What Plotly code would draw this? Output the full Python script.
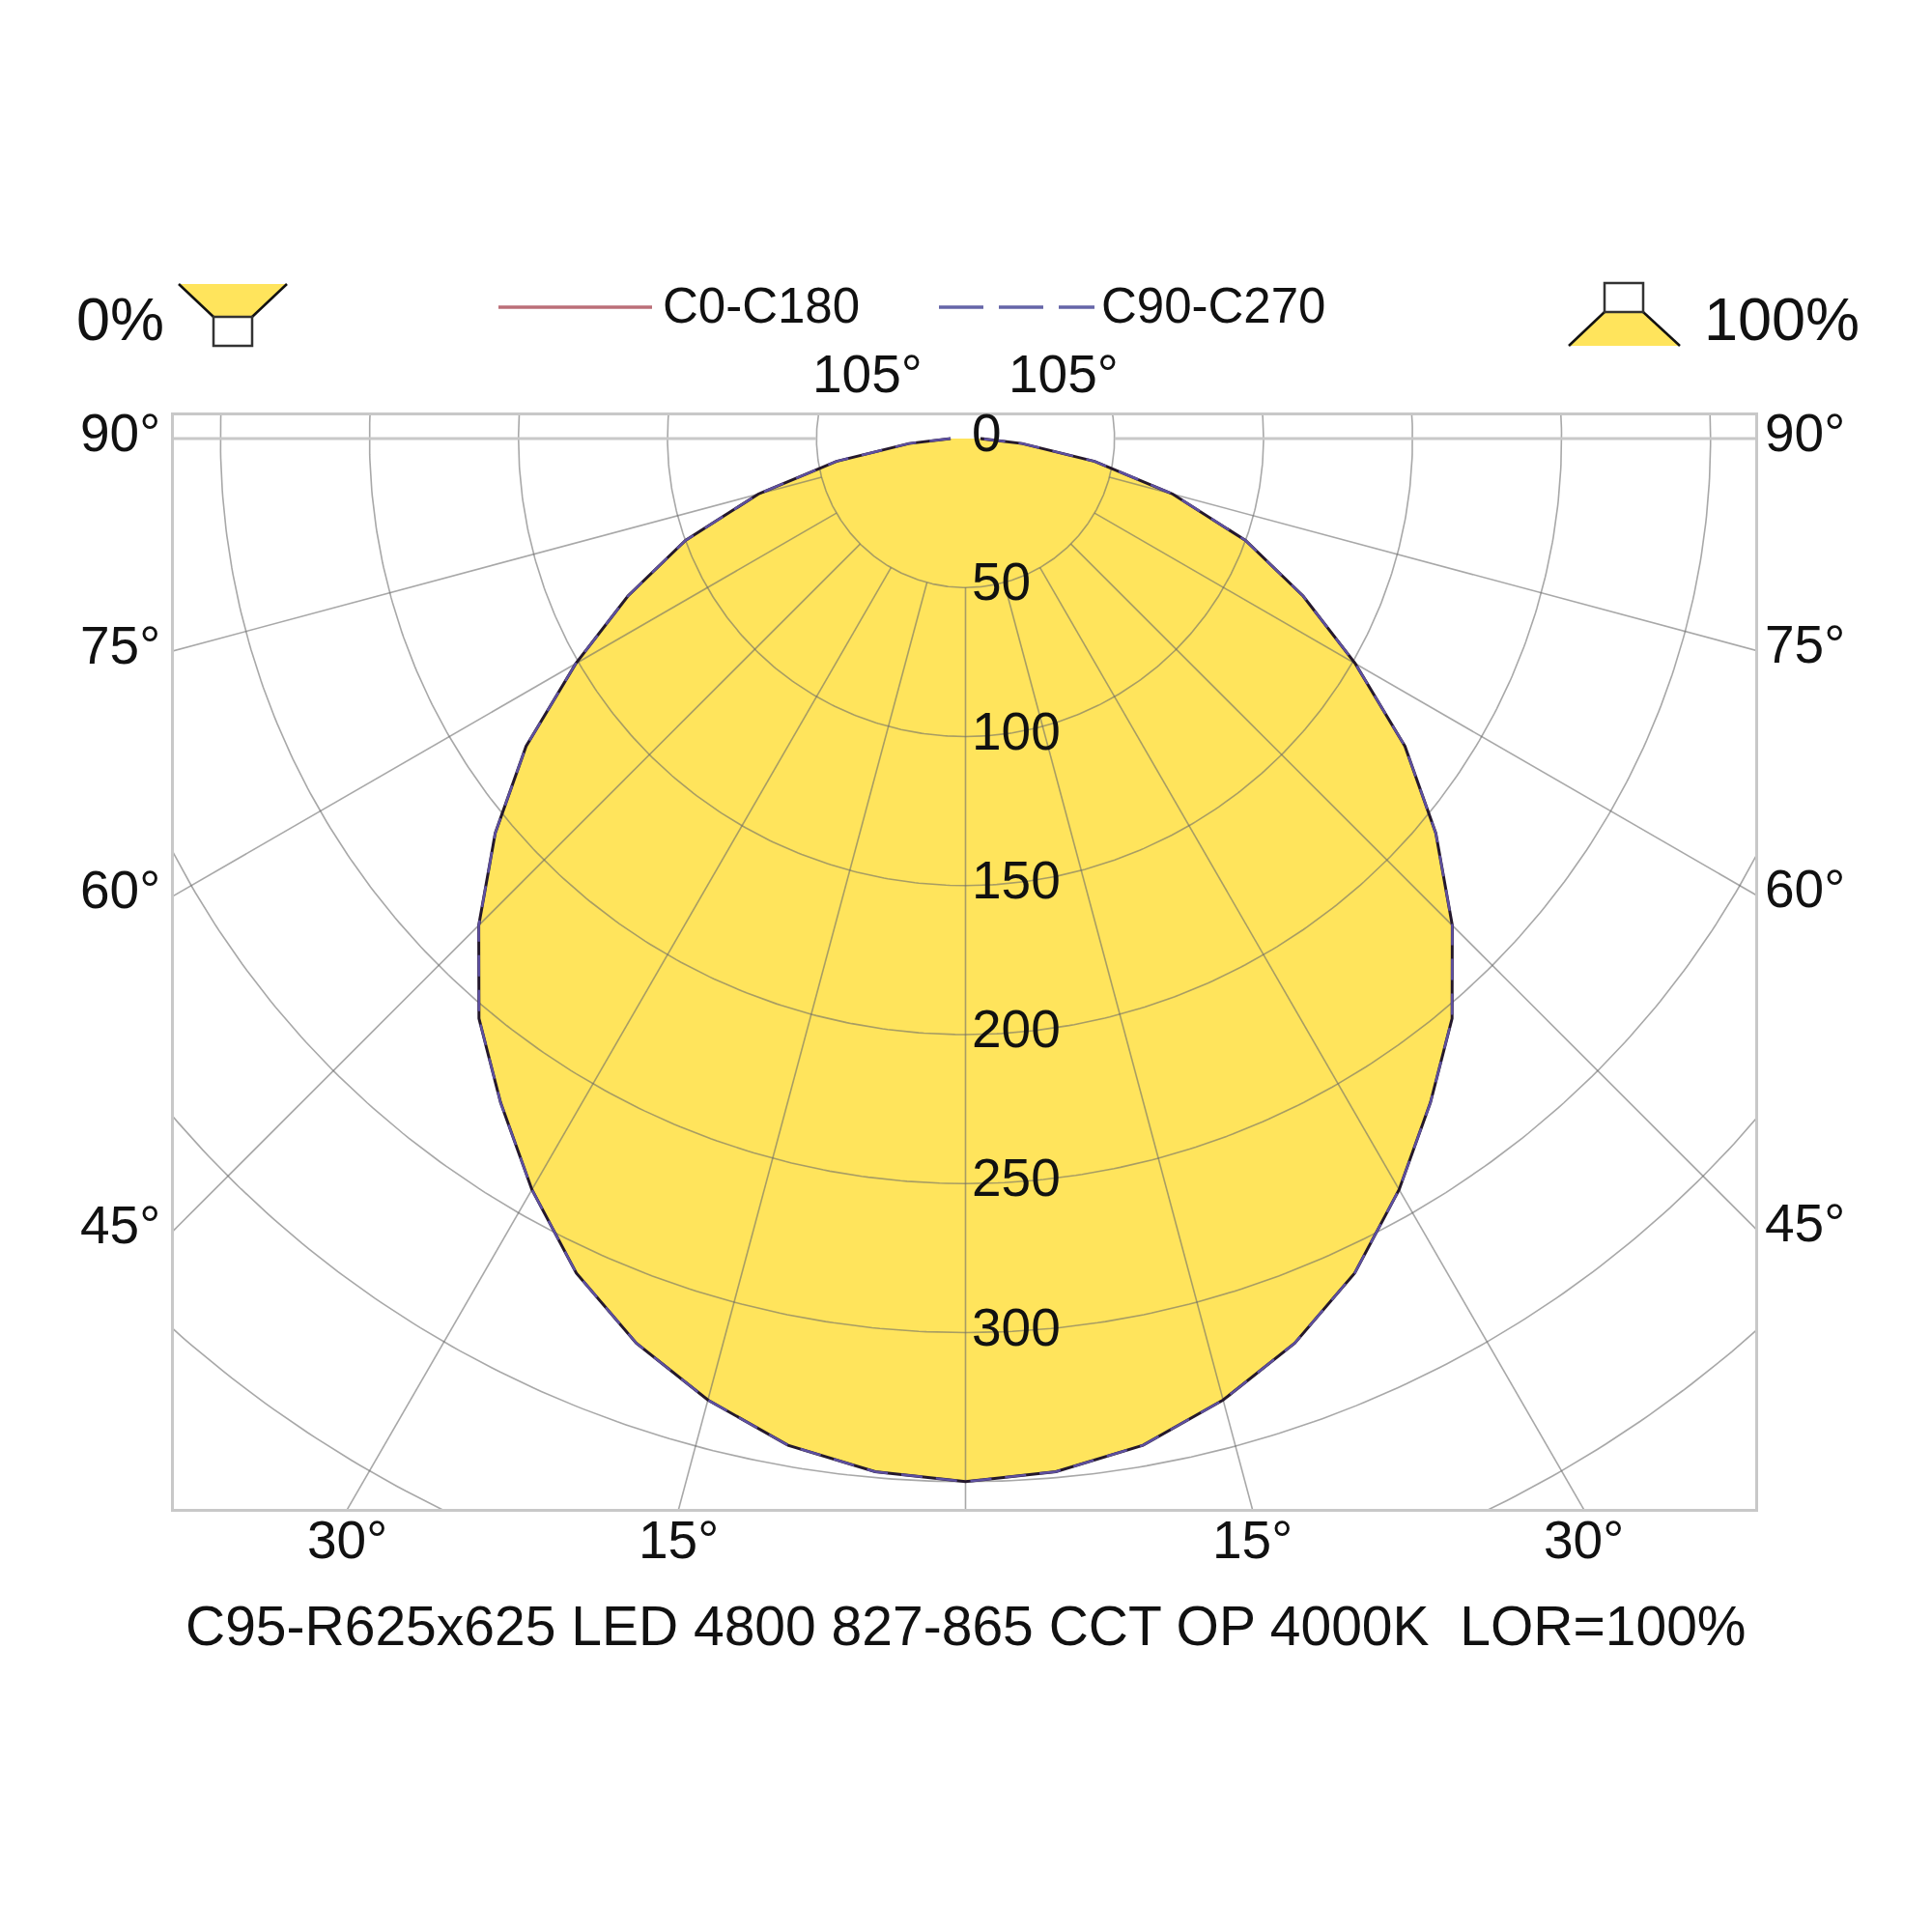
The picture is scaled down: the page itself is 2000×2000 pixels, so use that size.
import numpy as np
import plotly.graph_objects as go

# luminous intensity in cd/klm, gamma angle 0..90 deg (mirrored to the other half)
gamma = [0, 5, 10, 15, 20, 25, 30, 35, 40, 45, 50, 55, 60, 65, 70, 75, 80, 85, 90]
c0_c180 = [350, 348, 343, 334, 323, 309, 291, 272, 254, 231, 206, 180, 151, 125, 100, 72, 44, 19, 5]
c90_c270 = [350, 348, 343, 334, 323, 309, 291, 272, 254, 231, 206, 180, 151, 125, 100, 72, 44, 19, 5]

ring_values = [50, 100, 150, 200, 250, 300, 350, 400, 450]
ring_labels = [0, 50, 100, 150, 200, 250, 300]
spoke_angles = [-105, -75, -60, -45, -30, -15, 0, 15, 30, 45, 60, 75, 105]
side_labels = [90, 75, 60, 45]
bottom_labels = [30, 15]
top_labels = [105]

title_text = "C95-R625x625 LED 4800 827-865 CCT OP 4000K\u00a0 LOR=100%"

# page geometry (px)
W = H = 2000
L, R, T, B = 180, 1817, 430, 1562
CX, CY, K = 999.5, 454, 3.085   # pole position and px per cd/klm
DY = -6                          # optical lift of text

YELLOW = "#FFE45C"
GRID = "rgba(105,105,105,0.58)"
FRAME = "#c8c8c8"
FONT = "Liberation Sans, Arial, sans-serif"


def polar_xy(angles, values):
    a = np.radians(np.asarray(angles, dtype=float))
    v = np.asarray(values, dtype=float)
    return v * np.sin(a), -v * np.cos(a)


def full_curve(vals):
    ang = [-g for g in gamma[::-1]] + gamma[1:]
    val = vals[::-1] + vals[1:]
    return polar_xy(ang, val)


def pxx(x):
    return (x - L) / (R - L)


def pyy(y):
    return (B - y) / (B - T)


fig = go.Figure()

# filled distribution
fx, fy = full_curve(c0_c180)
fig.add_trace(go.Scatter(x=fx, y=fy, mode="lines", fill="toself", fillcolor=YELLOW,
                         line=dict(width=0), hoverinfo="skip"))

# grid circles
gx, gy = [], []
t = np.linspace(0, 360, 721)
for r in ring_values:
    x, y = polar_xy(t, [r] * len(t))
    gx += list(x) + [None]
    gy += list(y) + [None]
fig.add_trace(go.Scatter(x=gx, y=gy, mode="lines", line=dict(color=GRID, width=1.6),
                         hoverinfo="skip"))

# spokes, starting at the first ring
sx, sy = [], []
for a in spoke_angles:
    x, y = polar_xy([a, a], [ring_values[0], 900])
    sx += list(x) + [None]
    sy += list(y) + [None]
fig.add_trace(go.Scatter(x=sx, y=sy, mode="lines", line=dict(color=GRID, width=1.6),
                         hoverinfo="skip"))

# 90 deg horizontal
hx, hy = [], []
for a in (-90, 90):
    x, y = polar_xy([a, a], [ring_values[0], 900])
    hx += list(x) + [None]
    hy += list(y) + [None]
fig.add_trace(go.Scatter(x=hx, y=hy, mode="lines", line=dict(color=FRAME, width=3.2),
                         hoverinfo="skip"))

# curves
fig.add_trace(go.Scatter(x=fx, y=fy, mode="lines", line=dict(color="#24182c", width=3),
                         name="C0-C180", hoverinfo="skip"))
dx, dy = full_curve(c90_c270)
fig.add_trace(go.Scatter(x=dx, y=dy, mode="lines",
                         line=dict(color="#5e50a0", width=2.5, dash="22px,14px"),
                         name="C90-C270", hoverinfo="skip"))

ann = []
lab_font = dict(family=FONT, size=55, color="#111111")


def note(x, y, text, font, xanchor="center"):
    ann.append(dict(x=pxx(x), y=pyy(y + DY), xref="paper", yref="paper", text=text,
                    showarrow=False, xanchor=xanchor, yanchor="middle", font=font))


# intensity labels along the 0 deg axis
for v in ring_labels:
    note(CX + 4, CY + K * v, str(v), lab_font, "left")

# angle labels on the left / right edges
xl, xr = (L - CX) / K, (R - CX) / K
for a in side_labels:
    ta = np.tan(np.radians(a))
    yl = 0 if a == 90 else xl / ta
    yr = 0 if a == 90 else -xr / ta
    note(L - 12, CY - K * yl, f"{a}°", lab_font, "right")
    note(R + 8, CY - K * yr, f"{a}°", lab_font, "left")

# angle labels under the bottom edge
yb = (CY - B) / K
for a in bottom_labels:
    xa = -yb * np.tan(np.radians(a))
    for s in (-1, 1):
        note(CX + s * K * xa, 1600, f"{a}°", lab_font)

# angle labels above the top edge
yt = (CY - T) / K
for a in top_labels:
    xa = yt / np.tan(np.radians(a - 90))
    for s in (-1, 1):
        note(CX + s * (K * xa + 12), 393, f"{a}°", lab_font)

# title under the frame
note(1000, 1689, title_text, dict(family=FONT, size=57, color="#111111"))

# legend texts
leg_font = dict(family=FONT, size=51, color="#111111")
note(684, 323, "C0-C180", leg_font, "left")
note(1138, 323, "C90-C270", leg_font, "left")
pct_font = dict(family=FONT, size=63, color="#111111")
note(124, 336, "0%", pct_font)
note(1844, 336, "100%", pct_font)


def path(points):
    return "M " + " L ".join(f"{pxx(x):.5f},{pyy(y):.5f}" for x, y in points) + " Z"


def seg(x0, y0, x1, y1, color, width, dash="solid"):
    return dict(type="line", xref="paper", yref="paper", x0=pxx(x0), y0=pyy(y0),
                x1=pxx(x1), y1=pyy(y1), line=dict(color=color, width=width, dash=dash))


shapes = [
    # legend line samples
    seg(516, 318, 675, 318, "#bb6f78", 3.5),
    seg(972, 318, 1133, 318, "#6565a8", 3.5, "46px,16px"),
    # 0% icon: light going up
    dict(type="path", xref="paper", yref="paper",
         path=path([(185, 294), (297, 294), (261, 328), (221, 328)]),
         fillcolor=YELLOW, line=dict(width=0)),
    seg(185, 294, 221, 328, "#111111", 2.5),
    seg(297, 294, 261, 328, "#111111", 2.5),
    dict(type="rect", xref="paper", yref="paper", x0=pxx(221), y0=pyy(358),
         x1=pxx(261), y1=pyy(328), fillcolor="white", line=dict(color="#333333", width=2.5)),
    # 100% icon: light going down
    dict(type="path", xref="paper", yref="paper",
         path=path([(1661, 323), (1701, 323), (1739, 358), (1624, 358)]),
         fillcolor=YELLOW, line=dict(width=0)),
    seg(1661, 323, 1624, 358, "#111111", 2.5),
    seg(1701, 323, 1739, 358, "#111111", 2.5),
    dict(type="rect", xref="paper", yref="paper", x0=pxx(1661), y0=pyy(323),
         x1=pxx(1701), y1=pyy(293), fillcolor="white", line=dict(color="#333333", width=2.5)),
]

axis = dict(showgrid=False, zeroline=False, showticklabels=False, ticks="",
            showline=True, mirror=True, linecolor=FRAME, linewidth=3, fixedrange=True)
fig.update_layout(
    width=W, height=H,
    margin=dict(l=L, r=W - R, t=T, b=H - B),
    paper_bgcolor="white", plot_bgcolor="white",
    showlegend=False,
    xaxis=dict(range=[(L - CX) / K, (R - CX) / K], **axis),
    yaxis=dict(range=[(CY - B) / K, (CY - T) / K], **axis),
    annotations=ann,
    shapes=shapes,
)

fig.write_html("out.html", config={"displayModeBar": False},
               post_script="document.body.style.margin='0px';")
